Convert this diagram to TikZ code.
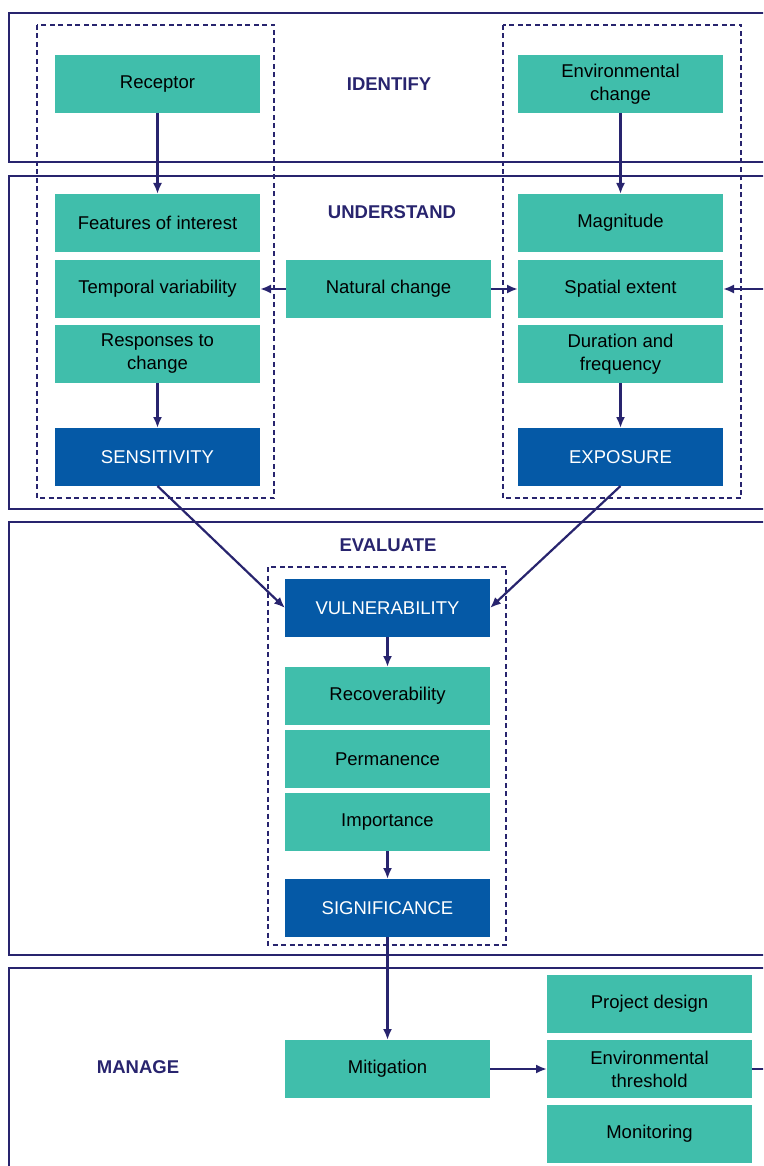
\documentclass[tikz,border=0pt]{standalone}
\usepackage{fontspec}
\setmainfont{Liberation Sans}
\usetikzlibrary{arrows.meta, positioning}
\definecolor{factorgreen}{HTML}{40BEAB}
\definecolor{resultblue}{HTML}{0559A6}
\definecolor{linenavy}{HTML}{28246E}
\tikzset{> = { Latex[length = 11pt, width = 9pt] }}

\begin{document}
\begin{tikzpicture}[x = 1pt, y = -1pt, color = linenavy,
		factor/.style = { fill = factorgreen, text = black, minimum width = 205pt, minimum height = 58pt, inner sep = 0pt, outer sep = 0pt, align = center, font = \fontsize{18.5}{23}\selectfont },
		result/.style = { factor, fill = resultblue, text = white },
		heading/.style = { text = linenavy, font = \fontsize{18.5}{23}\selectfont\bfseries },
		link/.style = { ->, draw = linenavy, line width = 2.2pt },
		stage/.style = { draw = linenavy, line width = 1.5pt },
		group/.style = { draw = linenavy, line width = 1.2pt, dash pattern = on 5pt off 3.5pt }]
		% Panels run on past the right edge, so clip them there.
		\useasboundingbox (0, 0) rectangle (763, 1166);
		\clip (0, 0) rectangle (763, 1166);
		\draw [stage] (9, 13) rectangle (790, 162);
		\draw [stage] (9, 176) rectangle (790, 509);
		\draw [stage] (9, 522) rectangle (790, 955);
		\draw [stage] (9, 968) rectangle (790, 1190);

		\draw [group] (37, 25) rectangle (274, 498);
		\draw [group] (503, 25) rectangle (741, 498);
		\draw [group] (268, 567) rectangle (506, 945);

		\node [heading] (identify)   at (389, 84)   {IDENTIFY};
		\node [heading] (understand) at (392, 212)  {UNDERSTAND};
		\node [heading] (evaluate)   at (388, 545)  {EVALUATE};
		\node [heading] (manage)     at (138, 1067) {MANAGE};

		\node [factor]                   (rec)  at (157.5, 84) {Receptor};
		\node [factor, below = 81pt of rec]  (feat) {Features of interest};
		\node [factor, below = 8pt of feat]  (temp) {Temporal variability};
		\node [factor, below = 7pt of temp]  (resp) {Responses to\\change};
		\node [result, below = 45pt of resp] (sens) {SENSITIVITY};

		\node [factor, right = 26pt of temp] (nat) {Natural change};

		\node [factor]                   (envc) at (620.5, 84) {Environmental\\change};
		\node [factor, below = 81pt of envc] (mag)  {Magnitude};
		\node [factor, below = 8pt of mag]   (spat) {Spatial extent};
		\node [factor, below = 7pt of spat]  (dur)  {Duration and\\frequency};
		\node [result, below = 45pt of dur]  (expo) {EXPOSURE};

		\node [result]                   (vul)  at (387.5, 608) {VULNERABILITY};
		\node [factor, below = 30pt of vul]  (reco) {Recoverability};
		\node [factor, below = 5pt of reco]  (perm) {Permanence};
		\node [factor, below = 5pt of perm]  (imp)  {Importance};
		\node [result, below = 28pt of imp]  (sig)  {SIGNIFICANCE};

		\node [factor, below = 103pt of sig] (mit)  {Mitigation};
		\node [factor, right = 57pt of mit]  (thr)  {Environmental\\threshold};
		\node [factor, above = 7pt of thr]   (proj) {Project design};
		\node [factor, below = 7pt of thr]   (mon)  {Monitoring};

		\coordinate (spatfeed) at (765, 289);
		\coordinate (throut)   at (765, 1069);

		\draw [link] (rec) -- (feat);
		\draw [link] (envc) -- (mag);
		\draw [link] (nat) -- (temp);
		\draw [link] (nat) -- (spat);
		\draw [link] (spatfeed) -- (spat);
		\draw [link] (resp) -- (sens);
		\draw [link] (dur) -- (expo);

		\draw [link] (sens.south) -- (vul.west);
		\draw [link] (expo.south) -- (vul.east);
		\draw [link] (vul) -- (reco);
		\draw [link] (imp) -- (sig);

		\draw [link] (sig) -- (mit);
		\draw [link] (mit) -- (thr);
		\draw [link, -] (thr) -- (throut);
	\end{tikzpicture}
\end{document}
